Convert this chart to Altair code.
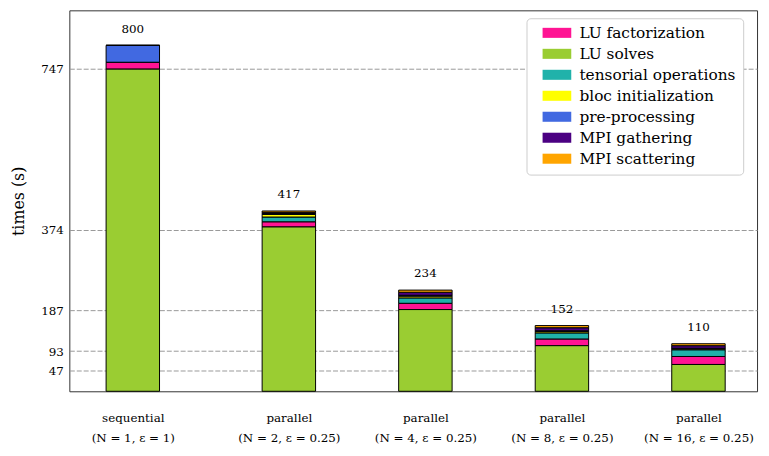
import altair as alt
import pandas as pd

# categories and their x positions
cat_line1 = ["sequential", "parallel", "parallel", "parallel", "parallel"]
cat_line2 = ["(N = 1, ε = 1)", "(N = 2, ε = 0.25)", "(N = 4, ε = 0.25)",
             "(N = 8, ε = 0.25)", "(N = 16, ε = 0.25)"]
positions = [60, 220, 360, 500, 640]

# components (legend order) and colours
components = ["LU factorization", "LU solves", "tensorial operations",
              "bloc initialization", "pre-processing", "MPI gathering", "MPI scattering"]
colors = ["#FF1493", "#9ACD32", "#20B2AA", "#FFFF00", "#4169E1", "#4B0082", "#FFA500"]
# stacking order bottom -> top
stack_order = ["LU solves", "LU factorization", "tensorial operations",
               "bloc initialization", "pre-processing", "MPI gathering", "MPI scattering"]

lu_fact = [16, 12, 14.5, 15.5, 18.5]
lu_solves = [745, 380, 189, 105.5, 62]
tensorial = [0, 11, 12.5, 14, 15.5]
bloc_init = [0, 6, 4, 3, 2]
pre_proc = [39, 2, 2, 2, 1.5]
mpi_gather = [0, 3, 7, 7, 6]
mpi_scatter = [0, 3, 5, 5, 4.5]

totals = [800, 417, 234, 152, 110]
y_ticks = [47, 93, 187, 374, 747]

series = {
    "LU factorization": lu_fact,
    "LU solves": lu_solves,
    "tensorial operations": tensorial,
    "bloc initialization": bloc_init,
    "pre-processing": pre_proc,
    "MPI gathering": mpi_gather,
    "MPI scattering": mpi_scatter,
}

rows = []
for comp, vals in series.items():
    for i, v in enumerate(vals):
        rows.append({"pos": positions[i], "component": comp, "value": v,
                     "order": stack_order.index(comp)})
df = pd.DataFrame(rows)
df_tot = pd.DataFrame({"pos": positions, "total": totals})

label_expr = "''"
for p, a, b in reversed(list(zip(positions, cat_line1, cat_line2))):
    label_expr = f"datum.value == {p} ? ['{a}', '{b}'] : ({label_expr})"

FONT = "DejaVu Serif, Liberation Serif, serif"

xscale = alt.Scale(domain=[0, 695], nice=False, zero=False)
yscale = alt.Scale(domain=[0, 881], nice=False)

bars = alt.Chart(df).mark_bar(size=54, stroke="black", strokeWidth=1).encode(
    x=alt.X("pos:Q", scale=xscale,
            axis=alt.Axis(values=positions, labelExpr=label_expr, title=None,
                          grid=False, ticks=False, domain=False, labelPadding=22,
                          labelLineHeight=20, labelFontSize=12, labelFont=FONT,
                          labelColor="black")),
    y=alt.Y("value:Q", stack="zero", scale=yscale,
            axis=alt.Axis(values=y_ticks, title="times (s)", grid=True,
                          gridDash=[5, 2], gridColor="#999", gridWidth=1,
                          ticks=False, domain=False, labelFontSize=12,
                          labelFont=FONT, labelColor="black", labelPadding=6,
                          titleFont=FONT, titleFontSize=16, titleFontWeight="normal",
                          titleColor="black", titlePadding=14)),
    color=alt.Color("component:N",
                    scale=alt.Scale(domain=components, range=colors),
                    legend=alt.Legend(title=None, orient="none", legendX=462, legendY=8,
                                      labelFont=FONT, labelFontSize=15.5, labelColor="black",
                                      symbolType="M-2,-0.7H2V0.7H-2Z", symbolSize=210,
                                      symbolStrokeWidth=0, symbolOpacity=1,
                                      symbolOffset=16, labelOffset=15,
                                      rowPadding=4.2, padding=7,
                                      strokeColor="#ccc", cornerRadius=4, fillColor="white")),
    order=alt.Order("order:Q"),
)

text = alt.Chart(df_tot).mark_text(baseline="bottom", dy=-10, font=FONT,
                                   fontSize=12, color="black").encode(
    x=alt.X("pos:Q", scale=xscale),
    y=alt.Y("total:Q", scale=yscale),
    text=alt.Text("total:Q"),
)

chart = (bars + text).properties(
    width=695, height=385,
    padding={"left": 62, "top": 0, "right": 4, "bottom": 60},
    autosize=alt.AutoSizeParams(type="none"),
).configure_view(stroke="#333", strokeWidth=1)

chart.save("out.html", embed_options={"renderer": "svg", "actions": False})
